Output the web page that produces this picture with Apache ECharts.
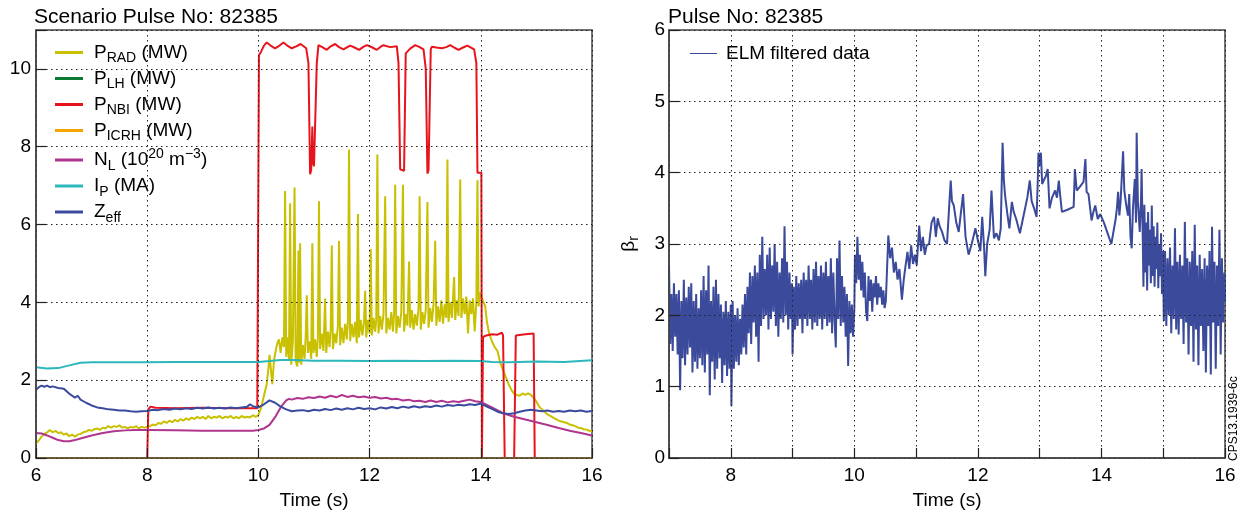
<!DOCTYPE html>
<html><head><meta charset="utf-8">
<script src="https://cdn.jsdelivr.net/npm/echarts@6/dist/echarts.min.js"></script>
<style>html,body{margin:0;padding:0;background:#fff}#c{width:1250px;height:515px}</style>
</head><body><div id="c"></div>
<script>
// ---------- data ----------
const leftTitle = 'Scenario Pulse No: 82385';
const rightTitle = 'Pulse No: 82385';
const leftXTicks = [6, 8, 10, 12, 14, 16];
const leftYTicks = [0, 2, 4, 6, 8, 10];
const rightXTicks = [8, 10, 12, 14, 16];
const rightYTicks = [0, 1, 2, 3, 4, 5, 6];

const pRad = [[6.00,0.38],[6.05,0.45],[6.10,0.55],[6.15,0.62],[6.20,0.66],[6.25,0.72],[6.30,0.66],[6.35,0.70],[6.40,0.64],[6.45,0.66],[6.50,0.60],[6.55,0.63],[6.60,0.56],[6.65,0.60],[6.70,0.55],[6.75,0.60],[6.80,0.62],[6.85,0.66],[6.90,0.68],[6.95,0.72],[7.00,0.70],[7.05,0.74],[7.10,0.76],[7.15,0.72],[7.20,0.78],[7.25,0.76],[7.30,0.82],[7.35,0.78],[7.40,0.82],[7.45,0.80],[7.50,0.84],[7.55,0.78],[7.60,0.80],[7.65,0.76],[7.70,0.80],[7.75,0.78],[7.80,0.82],[7.85,0.76],[7.90,0.80],[7.95,0.78],[8.00,0.80],[8.05,0.82],[8.10,0.86],[8.15,0.84],[8.20,0.90],[8.25,0.88],[8.30,0.94],[8.35,0.90],[8.40,0.96],[8.45,0.92],[8.50,0.98],[8.55,0.94],[8.60,1.00],[8.65,0.96],[8.70,1.02],[8.75,0.98],[8.80,1.04],[8.85,1.00],[8.90,1.06],[8.95,1.02],[9.00,1.06],[9.05,1.00],[9.10,1.08],[9.15,1.02],[9.20,1.06],[9.25,1.04],[9.30,1.08],[9.35,1.02],[9.40,1.06],[9.45,1.04],[9.50,1.08],[9.55,1.02],[9.60,1.06],[9.65,1.02],[9.70,1.08],[9.75,1.04],[9.80,1.06],[9.85,1.04],[9.90,1.10],[9.95,1.06],[10.00,1.10],[10.05,1.30],[10.10,1.60],[10.15,1.90],[10.18,2.30],[10.20,2.65],[10.23,2.20],[10.25,1.90],[10.28,2.50],[10.31,2.75],[10.34,2.95],[10.37,3.05],[10.40,2.70],[10.43,3.10],[10.46,2.85],[10.48,6.86],[10.50,2.60],[10.53,3.10],[10.55,2.50],[10.57,6.55],[10.59,2.40],[10.62,3.00],[10.65,6.95],[10.67,2.50],[10.70,2.35],[10.72,5.33],[10.73,2.45],[10.75,5.52],[10.77,2.40],[10.80,2.90],[10.83,2.55],[10.85,3.10],[10.87,4.18],[10.89,2.70],[10.92,3.00],[10.95,2.55],[10.97,5.52],[10.99,2.70],[11.02,3.05],[11.05,2.60],[11.07,3.10],[11.09,6.60],[11.11,2.80],[11.14,3.20],[11.17,2.75],[11.20,4.10],[11.22,2.70],[11.25,3.25],[11.28,2.85],[11.30,3.30],[11.32,5.46],[11.34,2.80],[11.37,3.20],[11.40,2.95],[11.43,3.40],[11.45,5.58],[11.47,2.90],[11.50,3.35],[11.53,2.95],[11.56,3.45],[11.59,3.05],[11.61,3.50],[11.63,7.93],[11.65,3.00],[11.68,3.45],[11.71,3.10],[11.74,3.50],[11.77,2.95],[11.79,6.27],[11.81,3.10],[11.84,3.55],[11.87,3.15],[11.90,3.50],[11.92,4.30],[11.94,3.10],[11.97,3.55],[12.00,3.20],[12.02,5.37],[12.04,3.15],[12.07,3.60],[12.10,3.25],[12.12,3.55],[12.14,7.80],[12.16,3.20],[12.19,3.65],[12.22,3.30],[12.25,3.70],[12.28,6.73],[12.30,3.20],[12.33,3.60],[12.36,3.30],[12.39,3.75],[12.42,3.25],[12.44,3.70],[12.46,7.02],[12.48,3.20],[12.51,3.65],[12.54,3.35],[12.57,3.75],[12.60,7.02],[12.62,3.25],[12.65,3.70],[12.68,3.40],[12.71,5.05],[12.73,3.35],[12.76,3.80],[12.79,3.30],[12.82,3.70],[12.85,3.40],[12.88,3.85],[12.90,6.73],[12.92,3.30],[12.95,3.75],[12.98,3.45],[13.01,3.80],[13.04,6.58],[13.06,3.35],[13.09,3.85],[13.12,3.50],[13.15,3.95],[13.18,5.58],[13.20,3.40],[13.23,3.90],[13.26,3.50],[13.29,4.05],[13.32,3.45],[13.35,3.95],[13.38,3.60],[13.40,7.67],[13.42,3.50],[13.45,4.00],[13.48,3.60],[13.50,4.10],[13.52,4.65],[13.54,3.55],[13.57,4.05],[13.60,3.65],[13.63,7.16],[13.65,3.60],[13.68,4.10],[13.71,3.70],[13.74,4.15],[13.77,3.20],[13.80,4.05],[13.83,3.70],[13.86,4.10],[13.89,3.25],[13.92,4.00],[13.94,7.14],[13.96,3.90],[13.99,4.25],[14.02,4.10],[14.05,4.15],[14.08,3.90],[14.11,3.50],[14.15,3.20],[14.20,3.00],[14.25,2.85],[14.30,2.75],[14.35,2.45],[14.40,2.25],[14.45,2.08],[14.50,1.90],[14.55,1.75],[14.60,1.65],[14.65,1.62],[14.70,1.60],[14.75,1.66],[14.80,1.62],[14.85,1.66],[14.90,1.62],[14.95,1.55],[15.00,1.45],[15.05,1.32],[15.10,1.25],[15.15,1.18],[15.20,1.12],[15.25,1.08],[15.30,1.04],[15.35,1.00],[15.40,0.96],[15.45,0.94],[15.50,0.92],[15.55,0.90],[15.60,0.86],[15.65,0.84],[15.70,0.82],[15.75,0.78],[15.80,0.77],[15.85,0.74],[15.90,0.73],[15.95,0.70],[16.00,0.69]];

const pLH = [[6.00,0],[16.00,0]];
const pICRH = [[6.00,0],[16.00,0]];

const pNBI = [[8.00,0],[8.02,1.25],[8.06,1.32],[8.15,1.29],[8.50,1.28],[9.00,1.29],[9.50,1.28],[9.98,1.28],[10.01,10.35],[10.05,10.45],[10.10,10.60],[10.15,10.68],[10.22,10.60],[10.30,10.53],[10.38,10.60],[10.45,10.68],[10.52,10.60],[10.60,10.53],[10.68,10.58],[10.76,10.64],[10.86,10.53],[10.90,10.15],[10.93,7.29],[10.95,7.40],[10.97,8.52],[10.98,7.60],[11.00,7.50],[11.05,10.15],[11.08,10.61],[11.15,10.56],[11.23,10.49],[11.30,10.58],[11.38,10.64],[11.45,10.56],[11.53,10.50],[11.60,10.56],[11.65,10.60],[11.73,10.55],[11.81,10.49],[11.88,10.56],[11.95,10.61],[12.05,10.55],[12.13,10.49],[12.20,10.57],[12.25,10.61],[12.37,10.56],[12.49,10.58],[12.52,10.15],[12.55,7.42],[12.62,7.38],[12.65,10.40],[12.73,10.52],[12.82,10.61],[12.90,10.56],[12.97,10.50],[13.01,10.00],[13.04,7.31],[13.06,7.40],[13.10,10.50],[13.12,10.57],[13.20,10.55],[13.30,10.53],[13.38,10.56],[13.45,10.61],[13.52,10.55],[13.60,10.49],[13.68,10.55],[13.76,10.60],[13.88,10.50],[13.92,10.15],[13.94,7.33],[14.01,7.33],[14.02,0],[14.03,0],[14.04,3.11],[14.10,3.15],[14.20,3.18],[14.30,3.17],[14.38,3.22],[14.40,3.15],[14.43,0],[14.50,'-'],[14.60,0],[14.63,3.15],[14.66,3.20],[14.80,3.18],[14.95,3.20],[14.97,0]];

const nL = [[6.00,0.64],[6.10,0.63],[6.20,0.58],[6.30,0.52],[6.40,0.46],[6.50,0.43],[6.60,0.43],[6.70,0.46],[6.80,0.50],[6.90,0.54],[7.00,0.58],[7.20,0.64],[7.40,0.69],[7.60,0.71],[7.80,0.72],[8.00,0.72],[8.50,0.71],[9.00,0.70],[9.50,0.70],[9.90,0.70],[10.00,0.72],[10.10,0.76],[10.20,0.85],[10.30,1.05],[10.40,1.30],[10.50,1.48],[10.55,1.52],[10.60,1.50],[10.70,1.54],[10.80,1.52],[10.90,1.56],[11.00,1.54],[11.10,1.58],[11.20,1.55],[11.30,1.60],[11.40,1.56],[11.50,1.62],[11.60,1.57],[11.70,1.60],[11.80,1.56],[11.90,1.58],[12.00,1.55],[12.10,1.57],[12.20,1.53],[12.30,1.55],[12.40,1.51],[12.50,1.52],[12.60,1.48],[12.70,1.50],[12.80,1.46],[12.90,1.47],[13.00,1.44],[13.10,1.48],[13.20,1.44],[13.30,1.47],[13.40,1.43],[13.50,1.46],[13.60,1.44],[13.70,1.47],[13.80,1.50],[13.90,1.46],[14.00,1.44],[14.20,1.30],[14.40,1.15],[14.60,1.06],[14.80,0.99],[15.00,0.92],[15.20,0.85],[15.40,0.77],[15.60,0.70],[15.80,0.64],[16.00,0.58]];

const iP = [[6.00,2.33],[6.20,2.30],[6.40,2.31],[6.60,2.38],[6.80,2.45],[7.00,2.46],[7.50,2.46],[8.00,2.46],[8.50,2.47],[9.00,2.47],[9.50,2.47],[10.00,2.47],[10.20,2.49],[10.40,2.52],[10.60,2.52],[11.00,2.50],[11.50,2.50],[12.00,2.49],[12.50,2.50],[13.00,2.49],[13.50,2.50],[14.00,2.49],[14.20,2.47],[14.50,2.46],[15.00,2.48],[15.50,2.47],[16.00,2.51]];

const zEff = [[6.00,1.75],[6.05,1.82],[6.10,1.86],[6.15,1.83],[6.20,1.86],[6.25,1.82],[6.30,1.84],[6.40,1.80],[6.50,1.78],[6.60,1.65],[6.70,1.55],[6.75,1.60],[6.80,1.50],[6.90,1.42],[7.00,1.35],[7.10,1.30],[7.20,1.28],[7.30,1.25],[7.40,1.24],[7.50,1.22],[7.60,1.22],[7.70,1.20],[7.80,1.19],[7.90,1.20],[8.00,1.21],[8.10,1.24],[8.20,1.23],[8.30,1.26],[8.40,1.24],[8.50,1.27],[8.60,1.25],[8.70,1.28],[8.80,1.26],[8.90,1.29],[9.00,1.27],[9.10,1.30],[9.20,1.27],[9.30,1.29],[9.40,1.27],[9.50,1.30],[9.60,1.28],[9.70,1.30],[9.80,1.32],[9.85,1.38],[9.90,1.33],[10.00,1.30],[10.10,1.38],[10.20,1.48],[10.30,1.42],[10.40,1.32],[10.50,1.25],[10.60,1.20],[10.70,1.22],[10.80,1.23],[10.90,1.20],[11.00,1.24],[11.10,1.22],[11.20,1.26],[11.30,1.23],[11.40,1.27],[11.50,1.24],[11.60,1.28],[11.70,1.25],[11.80,1.29],[11.90,1.26],[12.00,1.28],[12.10,1.25],[12.20,1.30],[12.30,1.27],[12.40,1.31],[12.50,1.28],[12.60,1.32],[12.70,1.29],[12.80,1.33],[12.90,1.30],[13.00,1.33],[13.10,1.31],[13.20,1.35],[13.30,1.32],[13.40,1.36],[13.50,1.34],[13.60,1.37],[13.70,1.35],[13.80,1.38],[13.90,1.36],[14.00,1.40],[14.10,1.33],[14.20,1.26],[14.30,1.19],[14.40,1.15],[14.50,1.13],[14.60,1.15],[14.70,1.19],[14.80,1.22],[14.90,1.24],[15.00,1.22],[15.10,1.20],[15.20,1.22],[15.30,1.19],[15.40,1.21],[15.50,1.19],[15.60,1.22],[15.70,1.20],[15.80,1.22],[15.90,1.19],[16.00,1.21]];

const betaR = [[7.000,2.70],[7.020,1.60],[7.040,2.30],[7.060,1.50],[7.080,2.45],[7.100,1.70],[7.120,2.30],[7.140,1.45],[7.160,2.35],[7.180,0.95],[7.200,2.20],[7.220,1.40],[7.240,2.50],[7.260,1.30],[7.280,2.25],[7.300,1.45],[7.320,2.40],[7.340,1.55],[7.360,2.45],[7.380,1.20],[7.400,2.20],[7.420,1.35],[7.440,2.30],[7.460,1.25],[7.480,2.10],[7.500,1.40],[7.520,2.35],[7.540,1.30],[7.560,2.55],[7.580,1.20],[7.600,2.35],[7.620,1.45],[7.640,2.70],[7.660,0.88],[7.680,2.20],[7.700,1.35],[7.720,2.40],[7.740,1.10],[7.760,2.50],[7.780,1.25],[7.800,2.30],[7.820,1.40],[7.840,2.15],[7.860,1.05],[7.880,2.05],[7.900,1.30],[7.920,2.20],[7.940,1.15],[7.960,2.05],[7.980,1.25],[8.000,2.15],[8.010,0.73],[8.030,2.20],[8.050,1.25],[8.070,2.00],[8.090,1.35],[8.110,2.10],[8.130,1.30],[8.150,1.95],[8.170,1.45],[8.190,2.15],[8.210,1.55],[8.230,2.30],[8.250,1.45],[8.270,2.40],[8.290,1.75],[8.310,2.60],[8.330,1.60],[8.350,2.55],[8.370,1.90],[8.390,2.70],[8.410,1.70],[8.430,2.60],[8.450,1.35],[8.470,2.85],[8.490,1.85],[8.510,3.10],[8.530,1.95],[8.550,2.65],[8.570,2.00],[8.590,2.85],[8.610,1.80],[8.630,2.95],[8.650,1.95],[8.670,2.70],[8.690,2.05],[8.710,3.00],[8.730,1.85],[8.750,2.75],[8.770,1.70],[8.790,2.60],[8.810,1.95],[8.830,2.80],[8.850,1.90],[8.870,3.25],[8.890,2.00],[8.910,2.75],[8.930,1.80],[8.950,2.60],[8.970,1.95],[8.990,2.45],[9.000,1.45],[9.020,2.40],[9.040,1.80],[9.060,2.55],[9.080,1.85],[9.100,2.45],[9.120,1.95],[9.140,2.50],[9.160,1.75],[9.180,2.60],[9.200,1.95],[9.220,2.50],[9.240,1.85],[9.260,2.70],[9.280,1.95],[9.300,2.50],[9.320,1.80],[9.340,2.65],[9.360,1.90],[9.380,2.75],[9.400,1.85],[9.420,2.55],[9.440,1.95],[9.460,2.70],[9.480,1.80],[9.500,2.60],[9.520,1.95],[9.540,2.75],[9.560,1.85],[9.580,2.55],[9.600,1.90],[9.620,2.80],[9.640,1.75],[9.660,2.60],[9.680,1.95],[9.700,1.55],[9.720,2.80],[9.740,1.95],[9.760,3.05],[9.780,1.85],[9.800,2.55],[9.820,1.90],[9.840,2.40],[9.860,1.70],[9.880,2.30],[9.900,1.29],[9.920,2.20],[9.940,1.75],[9.960,2.15],[9.980,1.70],[10.000,2.10],[10.010,2.85],[10.030,2.45],[10.050,3.10],[10.070,2.50],[10.090,2.85],[10.110,2.35],[10.130,2.75],[10.150,2.25],[10.170,2.60],[10.190,2.05],[10.210,1.92],[10.230,2.55],[10.250,2.20],[10.270,2.50],[10.290,2.05],[10.310,2.45],[10.330,2.25],[10.350,2.55],[10.370,2.15],[10.390,2.45],[10.410,2.25],[10.430,2.40],[10.450,2.15],[10.470,2.35],[10.490,2.10],[10.510,2.20],[10.55,3.12],[10.58,2.80],[10.61,2.95],[10.64,2.60],[10.67,2.75],[10.70,2.50],[10.73,2.65],[10.77,2.22],[10.80,2.50],[10.83,2.70],[10.86,2.89],[10.89,2.65],[10.92,2.98],[10.95,2.72],[10.98,2.85],[11.01,2.70],[11.05,3.26],[11.08,2.90],[11.11,3.10],[11.14,2.85],[11.17,2.98],[11.21,3.00],[11.25,3.30],[11.29,3.38],[11.32,3.10],[11.35,3.36],[11.38,3.25],[11.42,3.17],[11.46,3.05],[11.50,3.00],[11.53,3.45],[11.56,3.89],[11.58,3.60],[11.61,3.54],[11.65,3.30],[11.69,3.17],[11.72,3.40],[11.74,3.55],[11.76,3.70],[11.80,3.10],[11.85,2.85],[11.90,3.00],[11.96,3.22],[12.00,3.05],[12.04,2.90],[12.07,3.38],[12.10,2.95],[12.12,2.55],[12.15,3.00],[12.19,3.20],[12.22,3.75],[12.26,3.08],[12.30,3.15],[12.34,3.05],[12.37,3.22],[12.40,4.42],[12.42,3.90],[12.44,3.68],[12.48,3.40],[12.51,3.22],[12.55,3.59],[12.58,3.45],[12.62,3.35],[12.68,3.15],[12.74,3.40],[12.80,3.65],[12.84,3.89],[12.87,3.60],[12.91,3.50],[12.95,3.38],[12.97,3.90],[12.98,4.28],[13.00,4.10],[13.02,4.28],[13.04,3.84],[13.07,3.90],[13.10,3.95],[13.13,4.05],[13.16,3.50],[13.20,3.65],[13.25,3.75],[13.28,3.65],[13.31,3.89],[13.33,3.70],[13.36,3.45],[13.45,3.48],[13.55,3.52],[13.57,4.05],[13.60,3.75],[13.65,3.80],[13.71,3.87],[13.74,4.19],[13.76,3.73],[13.79,3.70],[13.84,3.33],[13.87,3.45],[13.90,3.54],[13.94,3.35],[13.98,3.42],[14.04,3.30],[14.10,3.15],[14.16,3.00],[14.19,3.00],[14.23,3.35],[14.25,3.50],[14.27,3.73],[14.29,3.40],[14.31,3.60],[14.33,3.95],[14.35,4.30],[14.37,3.75],[14.40,3.55],[14.43,3.40],[14.45,3.70],[14.47,3.10],[14.49,2.94],[14.51,3.50],[14.54,3.91],[14.56,3.30],[14.57,4.56],[14.59,3.60],[14.62,3.17],[14.64,3.60],[14.65,4.05],[14.67,3.00],[14.680,2.40],[14.695,3.55],[14.710,2.60],[14.725,3.30],[14.740,2.35],[14.755,3.45],[14.770,2.70],[14.785,3.20],[14.800,2.45],[14.815,3.54],[14.830,2.55],[14.845,3.25],[14.860,2.40],[14.875,3.10],[14.890,2.65],[14.905,3.30],[14.920,2.38],[14.935,3.00],[14.950,2.55],[14.965,3.15],[14.980,2.30],[14.995,2.90],[15.010,1.92],[15.030,2.90],[15.050,1.85],[15.070,2.80],[15.090,2.00],[15.110,2.95],[15.130,1.75],[15.150,2.70],[15.170,1.95],[15.190,3.22],[15.210,1.80],[15.230,2.75],[15.250,1.73],[15.270,2.85],[15.290,1.95],[15.310,2.70],[15.330,1.60],[15.350,3.31],[15.370,1.90],[15.390,2.80],[15.410,1.45],[15.430,2.75],[15.450,1.85],[15.470,2.90],[15.490,1.35],[15.510,3.27],[15.530,1.80],[15.550,2.70],[15.570,1.30],[15.590,2.85],[15.610,1.85],[15.630,2.65],[15.650,1.50],[15.670,2.80],[15.690,1.20],[15.710,2.70],[15.730,1.85],[15.750,2.90],[15.770,1.17],[15.790,3.24],[15.810,1.90],[15.830,2.75],[15.850,1.25],[15.870,2.70],[15.890,1.85],[15.910,3.20],[15.930,1.45],[15.950,2.80],[15.970,1.90],[15.990,2.60],[16.000,2.20]];

// ---------- styling ----------
const FONT = 'Liberation Sans, Arial, Helvetica, sans-serif';
const C = {rad:'#c8c000', lh:'#0a7a35', nbi:'#e8141c', icrh:'#f5a300', nl:'#b0358f', ip:'#2bb7bb', zeff:'#3a4a9e', beta:'#3b4a9a'};
const legendNames = {
  'PRAD': '{f|P}{s|RAD}{m| (MW)}',
  'PLH': '{f|P}{s|LH}{m| (MW)}',
  'PNBI': '{f|P}{s|NBI}{m| (MW)}',
  'PICRH': '{f|P}{s|ICRH}{m| (MW)}',
  'NL': '{f|N}{s|L}{m| (10}{u|20}{m| m}{u|−3}{m|)}',
  'IP': '{f|I}{s|P}{m| (MA)}',
  'Zeff': '{f|Z}{s|eff}',
  'ELM filtered data': '{g|ELM filtered data}'
};
const rich = {
  m:{fontSize:19, lineHeight:26, verticalAlign:'middle', color:'#000', fontFamily:FONT},
  f:{fontSize:19, lineHeight:26, verticalAlign:'middle', color:'#000', fontFamily:FONT, padding:[0,0,0,6]},
  g:{fontSize:19, lineHeight:26, verticalAlign:'middle', color:'#000', fontFamily:FONT, padding:[0,0,0,4]},
  s:{fontSize:14, lineHeight:12, verticalAlign:'bottom', color:'#000', fontFamily:FONT},
  u:{fontSize:14, lineHeight:18, verticalAlign:'top', color:'#000', fontFamily:FONT}
};
const gridLine = {show:true, lineStyle:{color:'#222', width:1, type:[1.5,3.5]}};
const axisLine = {show:true, lineStyle:{color:'#444', width:1.5}};
const tick = {show:true, inside:true, length:10, lineStyle:{color:'#222', width:1.2}};
const label = {color:'#000', fontSize:19, fontFamily:FONT};

function mkSeries(name, data, color, gi, width) {
  return {name, type:'line', data, xAxisIndex:gi, yAxisIndex:gi, showSymbol:false, symbol:'none',
    lineStyle:{color, width}, itemStyle:{color}, connectNulls:false, animation:false, silent:true};
}

const option = {
  animation:false,
  textStyle:{fontFamily:FONT},
  title:[
    {text:leftTitle, left:34, top:7, padding:[0,0,0,0], textStyle:{fontSize:21, fontWeight:'normal', color:'#000', fontFamily:FONT}},
    {text:rightTitle, left:668, top:7, padding:[0,0,0,0], textStyle:{fontSize:21, fontWeight:'normal', color:'#000', fontFamily:FONT}}
  ],
  grid:[
    {left:36, top:30, width:556, height:430, show:true, borderColor:'#444', borderWidth:1.5, backgroundColor:'transparent'},
    {left:669, top:30, width:556, height:431, show:true, borderColor:'#444', borderWidth:1.5, backgroundColor:'transparent'}
  ],
  legend:[
    {orient:'vertical', left:55, top:43, padding:0, itemGap:3.5, icon:'rect', itemWidth:28, itemHeight:3,
      data:['PRAD','PLH','PNBI','PICRH','NL','IP','Zeff'],
      formatter:n=>legendNames[n], textStyle:{rich}, selectedMode:false},
    {orient:'vertical', left:690, top:44, padding:0, itemGap:0, icon:'rect', itemWidth:27, itemHeight:1,
      data:['ELM filtered data'], formatter:n=>legendNames[n], textStyle:{rich}, selectedMode:false}
  ],
  xAxis:[
    {type:'value', gridIndex:0, min:leftXTicks[0], max:leftXTicks[leftXTicks.length-1], interval:2, z:5,
      axisLine, axisTick:tick, splitLine:gridLine, axisLabel:{...label, margin:8},
      name:'Time (s)', nameLocation:'middle', nameGap:33, nameTextStyle:{fontSize:19, color:'#000', fontFamily:FONT}},
    {type:'value', gridIndex:1, min:7, max:rightXTicks[rightXTicks.length-1], interval:1, z:5,
      axisLine, axisTick:tick, splitLine:gridLine,
      axisLabel:{...label, margin:8, formatter:v=>rightXTicks.includes(v)?String(v):''},
      name:'Time (s)', nameLocation:'middle', nameGap:33, nameTextStyle:{fontSize:19, color:'#000', fontFamily:FONT}}
  ],
  yAxis:[
    {type:'value', gridIndex:0, min:0, max:11, interval:2, z:5,
      axisLine, axisTick:tick, splitLine:gridLine,
      axisLabel:{...label, margin:5, formatter:v=>leftYTicks.includes(v)?String(v):''}},
    {type:'value', gridIndex:1, min:0, max:rightYTicks[rightYTicks.length-1], interval:1, z:5,
      axisLine, axisTick:tick, splitLine:gridLine,
      axisLabel:{...label, margin:4, formatter:v=>rightYTicks.includes(v)?String(v):''},
      name:'{b|β}{r|r}', nameLocation:'middle', nameGap:28, nameRotate:90,
      nameTextStyle:{rich:{b:{fontSize:19, lineHeight:24, verticalAlign:'middle', color:'#000', fontFamily:FONT},
                           r:{fontSize:14, lineHeight:12, verticalAlign:'bottom', color:'#000', fontFamily:FONT}}}}
  ],
  graphic:[
    {type:'text', x:1240, y:461, rotation:Math.PI/2, silent:true,
      style:{text:'CPS13.1939-6c', fontSize:12, fontFamily:FONT, fill:'#000', textAlign:'left', textVerticalAlign:'bottom'}}
  ],
  series:[
    mkSeries('PRAD', pRad, C.rad, 0, 2),
    mkSeries('PLH', pLH, C.lh, 0, 2),
    mkSeries('PNBI', pNBI, C.nbi, 0, 2),
    mkSeries('PICRH', pICRH, C.icrh, 0, 2),
    mkSeries('NL', nL, C.nl, 0, 2),
    mkSeries('IP', iP, C.ip, 0, 2),
    mkSeries('Zeff', zEff, C.zeff, 0, 2),
    mkSeries('ELM filtered data', betaR, C.beta, 1, 2)
  ]
};
const chart = echarts.init(document.getElementById('c'), null, {renderer:'canvas'});
chart.setOption(option);
</script></body></html>
